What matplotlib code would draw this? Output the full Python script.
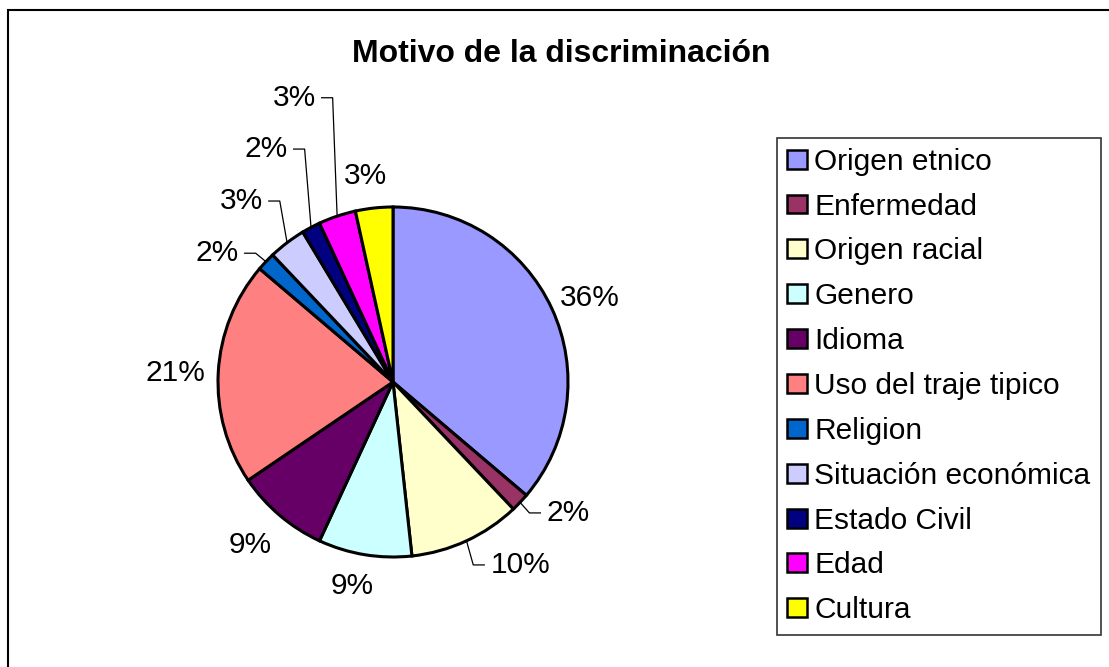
import matplotlib
matplotlib.use("Agg")
import matplotlib.pyplot as plt
from matplotlib.patches import Rectangle
import numpy as np

plt.rcParams['font.family'] = ['Liberation Sans', 'DejaVu Sans']

title = "Motivo de la discriminación"
categories = ["Origen etnico", "Enfermedad", "Origen racial", "Genero", "Idioma",
              "Uso del traje tipico", "Religion", "Situación económica",
              "Estado Civil", "Edad", "Cultura"]
counts = [21, 1, 6, 5, 5, 12, 1, 2, 1, 2, 2]
colors = ["#9999FF", "#993366", "#FFFFCC", "#CCFFFF", "#660066", "#FF8080",
          "#0066CC", "#CCCCFF", "#000080", "#FF00FF", "#FFFF00"]

W, H = 1109, 667
R = 175.0              # pie radius in px
CX, CY = 393.0, 382.0  # pie centre in px (from top)

fig = plt.figure(figsize=(W / 100, H / 100), dpi=100)
ax = fig.add_axes([0, 0, 1, 1])

def px(x, y):
    """figure pixel (from top-left) -> data coords"""
    return ((x - CX) / R, (CY - y) / R)

wedges, _ = ax.pie(counts, colors=colors, startangle=90, counterclock=False,
                   radius=1.0, center=(0, 0), frame=True,
                   wedgeprops=dict(edgecolor='black', linewidth=2.2))
ax.set_xlim(-CX / R, (W - CX) / R)
ax.set_ylim(-(H - CY) / R, CY / R)
ax.set_aspect('auto')
ax.axis('off')

# outer chart border (right / bottom edges fall outside the picture)
x0, y0 = px(8, 10)
x1, y1 = px(1200, 760)
ax.add_patch(Rectangle((x0, y1), x1 - x0, y0 - y1, fill=False, edgecolor='black',
                       linewidth=1.5, zorder=0, clip_on=False))

total = sum(counts)
pct = [f"{round(100 * c / total):.0f}%" for c in counts]

# label placement (polar, pie-radius units) and leader side
label_ang = [23.1, -36.8, -55.2, -101.4, -131.3, 177.6, 143.8, 130.0, 118.6, 109.2, 97.7]
label_r = [1.224, 1.249, 1.273, 1.189, 1.239, 1.246, 1.246, 1.35, 1.516, 1.72, 1.19]
leader = [None, 'R', 'R', None, None, None, 'L', 'L', 'L', 'L', None]

fs = 21.5
mid = []
start = 90.0
for c in counts:
    span = 360.0 * c / total
    mid.append(start - span / 2)
    start -= span

renderer = fig.canvas.get_renderer()
inv = ax.transData.inverted()
tail = 11 / R
gap = 6 / R
for i in range(len(counts)):
    t = np.deg2rad(label_ang[i])
    lx, ly = label_r[i] * np.cos(t), label_r[i] * np.sin(t)
    txt = ax.text(lx, ly, pct[i], ha='center', va='center', fontsize=fs)
    if leader[i] is None:
        continue
    bb = txt.get_window_extent(renderer)
    (bx0, _), (bx1, _) = inv.transform([[bb.x0, bb.y0], [bb.x1, bb.y1]])
    m = np.deg2rad(mid[i])
    ex, ey = np.cos(m), np.sin(m)
    if leader[i] == 'L':
        vx = bx1 + gap + tail
        ax.plot([ex, vx, vx - tail], [ey, ly, ly], color='black', lw=0.9)
    else:
        vx = bx0 - gap - tail
        ax.plot([ex, vx, vx + tail], [ey, ly, ly], color='black', lw=0.9)

fig.text(561.5 / W, 1 - 54 / H, title, ha='center', va='center',
         fontsize=23, fontweight='bold')

leg = ax.legend(wedges, categories, loc='upper left',
                bbox_to_anchor=(777 / W, 1 - 137.5 / H), bbox_transform=fig.transFigure,
                fontsize=fs, frameon=True, fancybox=False, shadow=False,
                handlelength=0.66, handleheight=0.6, handletextpad=0.25,
                labelspacing=0.565, borderpad=0.34, borderaxespad=0.0)
leg.get_frame().set_edgecolor('black')
leg.get_frame().set_linewidth(1.2)
for h in leg.legend_handles:
    h.set_linewidth(1.8)

fig.savefig("out.png", dpi=100)
